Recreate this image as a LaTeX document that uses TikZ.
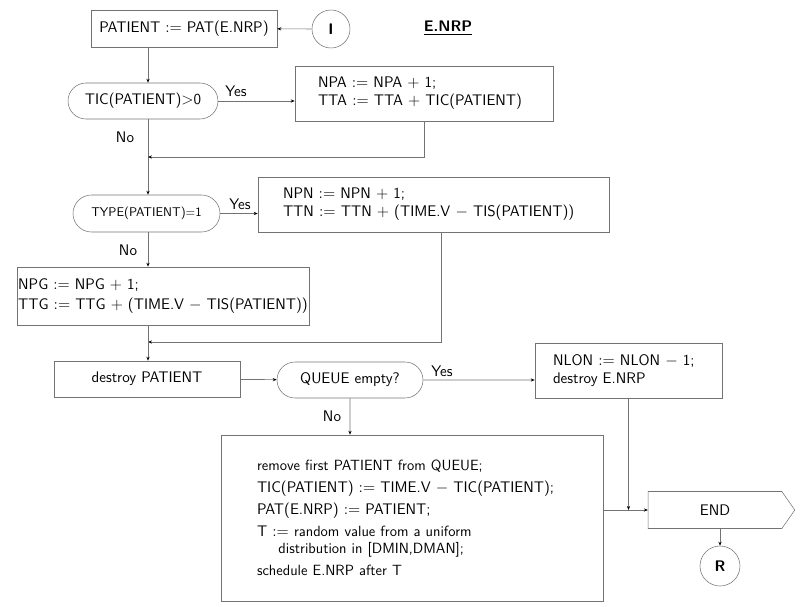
\documentclass[tikz,border=0pt]{standalone}
\usepackage{amsmath}
\usepackage{amssymb}
\usepackage{tikz}
\usetikzlibrary{shapes.misc,shapes.symbols,arrows.meta}
\renewcommand{\familydefault}{\sfdefault}
\newcommand{\bigtxt}{\fontsize{11.5}{13.5}\selectfont}
\newcommand{\smalltxt}{\fontsize{9.5}{12}\selectfont}
\newcommand{\midtxt}{\fontsize{11.1}{12}\selectfont}

\begin{document}
\begin{tikzpicture}[x=0.75pt, y=-0.75pt,
  every node/.style={font=\bigtxt, text=black},
  box/.style={draw=black!55, rectangle, inner sep=0pt},
  decision/.style={draw=black!55, rounded rectangle, inner sep=0pt},
  connector/.style={draw=black!55, circle, inner sep=0pt},
  flow/.style={draw=black!55, line width=0.5pt, -{Stealth[length=3pt, width=2.4pt, black]}},
  line/.style={draw=black!55, line width=0.5pt}]
\useasboundingbox (0,0) rectangle (811,607);
\coordinate (col) at (148,0);
\coordinate (m1) at (148,157);
\coordinate (m2) at (148,342);
% top
\node[box, minimum width=139.5pt, minimum height=27.75pt] (pat) at (184,28.5) {PATIENT $:=$ PAT(E.NRP)};
\node[connector, minimum size=28.5pt] (ci) at (331,29) {\textbf{I}};
\node (title) at (448,28) {\underline{\textbf{E.NRP}}};
\node[decision, minimum width=112.5pt, minimum height=27pt] (tic) at (143,101) {TIC(PATIENT)$>$0};
\node[box, minimum width=193.5pt, minimum height=41.25pt, inner xsep=17.25pt, text width=159pt, align=left] (npa) at (424,93.5) {NPA $:=$ NPA $+$ 1;\\ TTA $:=$ TTA $+$ TIC(PATIENT)};
\node[decision, minimum width=110.25pt, minimum height=27.75pt, font=\smalltxt] (type) at (146.5,213.5) {TYPE(PATIENT)$=$1};
\node[box, minimum width=263.25pt, minimum height=41.25pt, inner xsep=18.75pt, text width=225.75pt, align=left] (npn) at (433.5,204.5) {NPN $:=$ NPN $+$ 1;\\ TTN $:=$ TTN $+$ (TIME.V $-$ TIS(PATIENT))};
\node[box, minimum width=217.5pt, minimum height=43.5pt, inner xsep=1pt, align=left] (npg) at (163,296) {NPG $:=$ NPG $+$ 1;\\[2pt] TTG $:=$ TTG $+$ (TIME.V $-$ TIS(PATIENT))};
% bottom
\node[box, minimum width=139.5pt, minimum height=27pt] (destroy) at (147,379) {destroy PATIENT};
\node[decision, minimum width=109.5pt, minimum height=27pt] (queue) at (350,380) {QUEUE empty?};
\node[box, minimum width=140.25pt, minimum height=41.25pt, inner xsep=13.5pt, text width=113.25pt, align=left] (nlon) at (628.5,370.5) {NLON $:=$ NLON $-$ 1;\\ destroy E.NRP};
\node[box, minimum width=286.5pt, minimum height=124.5pt, inner xsep=27pt, text width=232.5pt, align=left] (remove) at (412,518) {%
  {\midtxt remove first PATIENT from QUEUE;}\\[3pt]
  TIC(PATIENT) $:=$ TIME.V $-$ TIC(PATIENT);\\[3pt]
  PAT(E.NRP) $:=$ PATIENT;\\[3pt]
  T $:=$ {\midtxt random value from a uniform}\\[-1pt]
  \hspace*{1.4em}{\midtxt distribution in [DMIN,DMAN];}\\[3pt]
  {\midtxt schedule E.NRP after T}};
\node[draw=black!55, signal, signal to=east, signal pointer angle=110, minimum width=110pt, minimum height=27.75pt, inner sep=0pt] (end) at (715,510) {END};
\node[connector, minimum size=30pt] (cr) at (720,566) {\textbf{R}};
% labels
\node (yes1) at (236,91) {Yes};
\node (no1) at (125,137) {No};
\node (yes2) at (240,204) {Yes};
\node (no2) at (128,250) {No};
\node (yes3) at (442,371) {Yes};
\node (no3) at (332,416) {No};
% connectors
\path[flow] (ci) -- (pat);
\path[flow] (pat.south -| col) -- (tic.north -| col);
\path[flow] (tic.east) -- (tic.east -| npa.west);
\path[flow] (tic.south -| col) -- (type.north -| col);
\path[flow] (npa.south) |- (m1);
\path[flow] (type.east) -- (type.east -| npn.west);
\path[flow] (type.south -| col) -- (npg.north -| col);
\path[flow] ([xshift=6pt]npn.south) |- (m2);
\path[flow] (npg.south -| col) -- (destroy.north -| col);
\path[flow] (destroy) -- (queue);
\path[flow] (queue) -- (queue -| nlon.west);
\path[flow] (queue) -- (remove.north -| queue);
\path[flow] (remove.east |- end.west) -- (end.west);
\path[flow] (nlon.south) -- (nlon.south |- end.west);
\path[flow] (end.south -| cr) -- (cr);
\end{tikzpicture}
\end{document}
